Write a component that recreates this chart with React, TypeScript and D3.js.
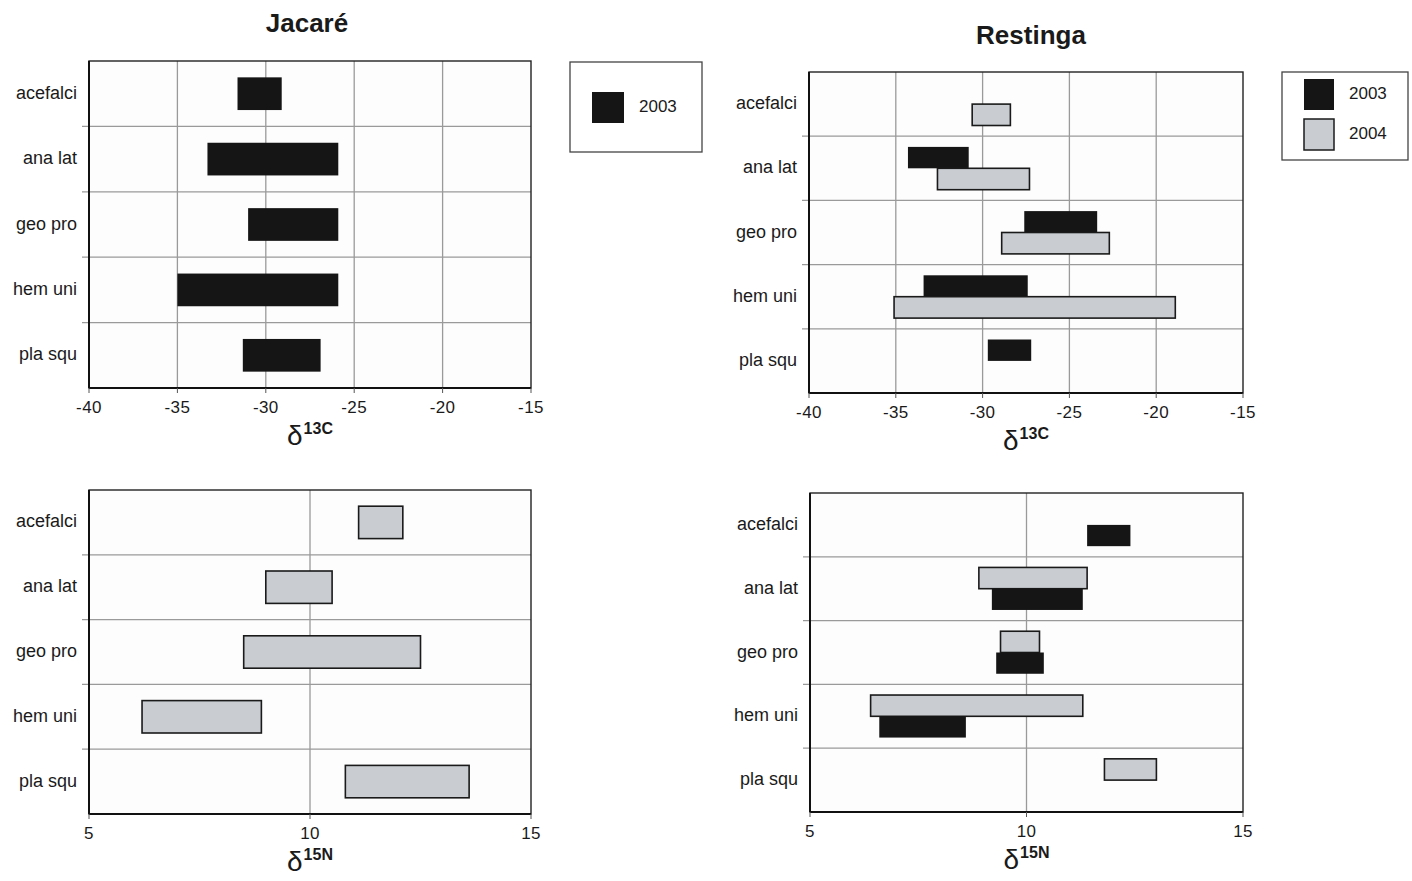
import React, { useEffect, useRef } from "react";
import * as d3 from "d3";

const CATEGORIES = ["acefalci", "ana lat", "geo pro", "hem uni", "pla squ"];

const C13_DOMAIN = [-40, -15];
const C13_TICKS = [-40, -35, -30, -25, -20, -15];
const N15_DOMAIN = [5, 15];
const N15_TICKS = [5, 10, 15];

// [min, max] per category, null = no data
const JAC_C13_2003 = [[-31.6, -29.1], [-33.3, -25.9], [-31.0, -25.9], [-35.0, -25.9], [-31.3, -26.9]];
const JAC_N15_2004 = [[11.1, 12.1], [9.0, 10.5], [8.5, 12.5], [6.2, 8.9], [10.8, 13.6]];
const RES_C13_2003 = [null, [-34.3, -30.8], [-27.6, -23.4], [-33.4, -27.4], [-29.7, -27.2]];
const RES_C13_2004 = [[-30.6, -28.4], [-32.6, -27.3], [-28.9, -22.7], [-35.1, -18.9], null];
const RES_N15_2003 = [[11.4, 12.4], [9.2, 11.3], [9.3, 10.4], [6.6, 8.6], null];
const RES_N15_2004 = [null, [8.9, 11.4], [9.4, 10.3], [6.4, 11.3], [11.8, 13.0]];

const YEARS = ["2003", "2004"];

const BLACK = "#151515";
const GRAY = "#c9cdd1";
const FONT = "'Liberation Sans', Arial, Helvetica, sans-serif";

type Series = { key: string; values: (number[] | null)[] };

export default function App() {
  const svgRef = useRef<SVGSVGElement>(null);

  useEffect(() => {
    const svg = d3.select(svgRef.current);
    svg.selectAll("*").remove();

    const fillFor = (k: string) => (k === "2003" ? BLACK : GRAY);

    const panels = [
      { box: [89, 61, 531, 388], domain: C13_DOMAIN, ticks: C13_TICKS, iso: "13C",
        series: [{ key: "2003", values: JAC_C13_2003 }] },
      { box: [809, 72, 1243, 393], domain: C13_DOMAIN, ticks: C13_TICKS, iso: "13C",
        series: [{ key: "2003", values: RES_C13_2003 }, { key: "2004", values: RES_C13_2004 }] },
      { box: [89, 490, 531, 814], domain: N15_DOMAIN, ticks: N15_TICKS, iso: "15N",
        series: [{ key: "2004", values: JAC_N15_2004 }] },
      { box: [810, 493, 1243, 812], domain: N15_DOMAIN, ticks: N15_TICKS, iso: "15N",
        series: [{ key: "2004", values: RES_N15_2004 }, { key: "2003", values: RES_N15_2003 }] },
    ];

    panels.forEach(p => {
      const [x0, y0, x1, y1] = p.box;
      const x = d3.scaleLinear().domain(p.domain).range([x0, x1]);
      const y = d3.scaleBand().domain(CATEGORIES).range([y0, y1]);
      const sub = d3.scaleBand()
        .domain((p.series as Series[]).map(s => s.key))
        .range([0, y.bandwidth()])
        .paddingInner(0)
        .paddingOuter(0.5);

      const g = svg.append("g");

      g.append("rect")
        .attr("x", x0).attr("y", y0)
        .attr("width", x1 - x0).attr("height", y1 - y0)
        .attr("fill", "#fdfdfd");

      // vertical grid
      g.selectAll(".vg")
        .data(p.ticks.slice(1, -1))
        .join("line")
        .attr("x1", d => x(d)).attr("x2", d => x(d))
        .attr("y1", y0).attr("y2", y1)
        .attr("stroke", "#9a9a9a").attr("stroke-width", 1.3);

      // horizontal separators between categories
      g.selectAll(".hg")
        .data(CATEGORIES.slice(1))
        .join("line")
        .attr("x1", x0 - 7).attr("x2", x1)
        .attr("y1", d => y(d)!).attr("y2", d => y(d)!)
        .attr("stroke", "#9a9a9a").attr("stroke-width", 1.3);

      // bars
      (p.series as Series[]).forEach(s => {
        const rows = CATEGORIES.map((c, i) => ({ c, v: s.values[i] })).filter(d => d.v);
        g.selectAll(null)
          .data(rows)
          .join("rect")
          .attr("x", d => x(d.v![0]))
          .attr("width", d => x(d.v![1]) - x(d.v![0]))
          .attr("y", d => y(d.c)! + sub(s.key)!)
          .attr("height", sub.bandwidth())
          .attr("fill", fillFor(s.key))
          .attr("stroke", "#1a1a1a")
          .attr("stroke-width", s.key === "2003" ? 0 : 1.6);
      });

      // frame
      g.append("rect")
        .attr("x", x0).attr("y", y0)
        .attr("width", x1 - x0).attr("height", y1 - y0)
        .attr("fill", "none")
        .attr("stroke", "#222").attr("stroke-width", 1.4);
      g.append("line")
        .attr("x1", x0).attr("x2", x1).attr("y1", y1).attr("y2", y1)
        .attr("stroke", "#111").attr("stroke-width", 2);
      g.append("line")
        .attr("x1", x0).attr("x2", x0).attr("y1", y0).attr("y2", y1)
        .attr("stroke", "#111").attr("stroke-width", 2);

      // x tick marks + labels
      g.selectAll(".xt")
        .data(p.ticks)
        .join("line")
        .attr("x1", d => x(d)).attr("x2", d => x(d))
        .attr("y1", y1).attr("y2", y1 + 5)
        .attr("stroke", "#555").attr("stroke-width", 1);
      g.selectAll(".xl")
        .data(p.ticks)
        .join("text")
        .attr("x", d => x(d)).attr("y", y1 + 25)
        .attr("text-anchor", "middle")
        .attr("font-family", FONT).attr("font-size", 17)
        .attr("letter-spacing", 0.4)
        .attr("fill", "#1a1a1a")
        .text(d => String(d));

      // category labels
      g.selectAll(".yl")
        .data(CATEGORIES)
        .join("text")
        .attr("x", x0 - 12)
        .attr("y", d => y(d)! + y.bandwidth() / 2 + 5)
        .attr("text-anchor", "end")
        .attr("font-family", FONT).attr("font-size", 18)
        .attr("fill", "#1a1a1a")
        .text(d => d);

      // axis title: delta + superscript
      const cx = (x0 + x1) / 2;
      const t = g.append("text")
        .attr("x", cx - 23).attr("y", y1 + 57)
        .attr("font-family", FONT)
        .attr("fill", "#1a1a1a");
      t.append("tspan").attr("font-size", 28).text("δ");
      t.append("tspan").attr("font-size", 16).attr("font-weight", "bold")
        .attr("dy", -11).attr("dx", 1).text(p.iso);
    });

    // titles
    svg.append("text")
      .attr("x", 307).attr("y", 32)
      .attr("text-anchor", "middle")
      .attr("font-family", FONT).attr("font-size", 26).attr("font-weight", "bold")
      .attr("fill", "#1a1a1a")
      .text("Jacaré");
    svg.append("text")
      .attr("x", 1031).attr("y", 44)
      .attr("text-anchor", "middle")
      .attr("font-family", FONT).attr("font-size", 26).attr("font-weight", "bold")
      .attr("fill", "#1a1a1a")
      .text("Restinga");

    // legends
    const legends = [
      { box: [570, 62, 702, 152], keys: YEARS.slice(0, 1), sx: 592, sy: 92, size: [32, 31], gap: 0 },
      { box: [1282, 72, 1408, 160], keys: YEARS, sx: 1304, sy: 79, size: [30, 31], gap: 40 },
    ];
    legends.forEach(l => {
      const [lx0, ly0, lx1, ly1] = l.box;
      const lg = svg.append("g");
      lg.append("rect")
        .attr("x", lx0).attr("y", ly0)
        .attr("width", lx1 - lx0).attr("height", ly1 - ly0)
        .attr("fill", "#fff")
        .attr("stroke", "#444").attr("stroke-width", 1.3);
      l.keys.forEach((k, i) => {
        const yy = l.sy + i * l.gap;
        lg.append("rect")
          .attr("x", l.sx).attr("y", yy)
          .attr("width", l.size[0]).attr("height", l.size[1])
          .attr("fill", fillFor(k))
          .attr("stroke", "#1a1a1a")
          .attr("stroke-width", k === "2003" ? 0 : 1.5);
        lg.append("text")
          .attr("x", l.sx + l.size[0] + 15)
          .attr("y", yy + l.size[1] / 2 + 4)
          .attr("font-family", FONT).attr("font-size", 17)
          .attr("fill", "#1a1a1a")
          .text(k);
      });
    });
  }, []);

  return (
    <svg
      ref={svgRef}
      width={1412}
      height={881}
      style={{ position: "absolute", left: 0, top: 0, background: "#fff" }}
    />
  );
}
